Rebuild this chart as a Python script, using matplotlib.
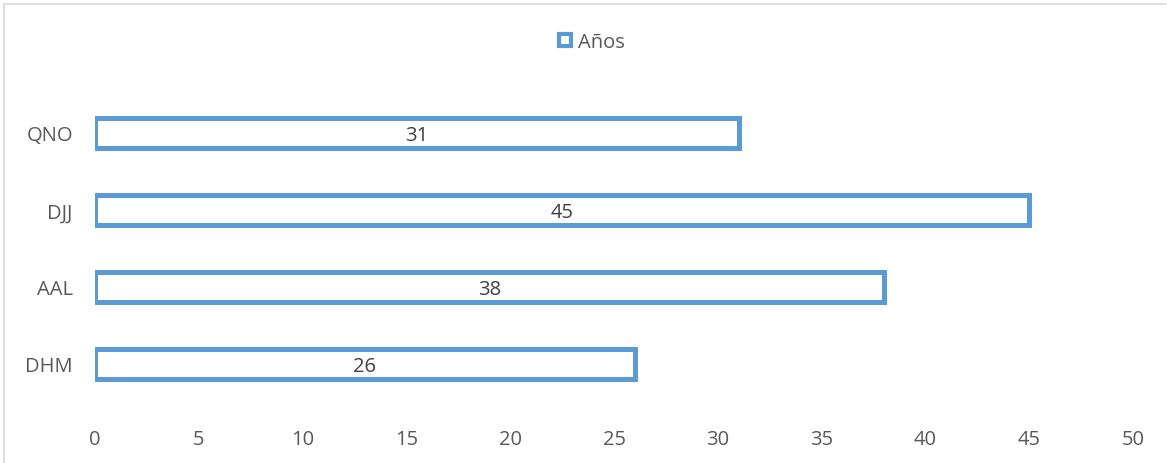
import matplotlib
matplotlib.use("Agg")
import matplotlib.pyplot as plt
from matplotlib.patches import Patch
from matplotlib.lines import Line2D

categories = ["DHM", "AAL", "DJJ", "QNO"]
years = [26, 38, 45, 31]
series_name = "Años"
x_ticks = [0, 5, 10, 15, 20, 25, 30, 35, 40, 45, 50]

plt.rcParams["font.family"] = ["Open Sans", "DejaVu Sans"]

W, H = 1167, 464
fig = plt.figure(figsize=(W / 100, H / 100), dpi=100)
ax = fig.add_axes([95 / W, 1 - 403.5 / H, (1133 - 95) / W, (403.5 - 95.5) / H])

blue = "#5B9BD5"
text_grey = "#595959"
fs = 14.5

y = range(len(categories))
ax.barh(y, years, height=0.377, color="white", edgecolor=blue, linewidth=3.6)

for yi, v in zip(y, years):
    ax.text(v / 2, yi - 0.02, str(v), ha="center", va="center", fontsize=fs, color="#404040")

ax.set_xlim(0, 50)
ax.set_ylim(-0.5, len(categories) - 0.5)
ax.set_yticks(list(y))
ax.set_yticklabels(categories)
ax.set_xticks(x_ticks)
ax.tick_params(axis="both", length=0, labelsize=fs, labelcolor=text_grey)
ax.tick_params(axis="x", pad=19)
ax.tick_params(axis="y", pad=16)
for s in ax.spines.values():
    s.set_visible(False)

handle = Patch(facecolor="white", edgecolor=blue, linewidth=3.0)
fig.legend([handle], [series_name], loc="center", bbox_to_anchor=(592 / W, 1 - 43 / H),
           frameon=False, fontsize=fs, labelcolor=text_grey,
           handlelength=0.6, handleheight=0.6, handletextpad=0.35)

# chart area border
fig.add_artist(Line2D([4 / W, 4 / W], [0, 1 - 5 / H], transform=fig.transFigure,
                      color="#D9D9D9", linewidth=1.2))
fig.add_artist(Line2D([4 / W, 1166 / W], [1 - 5 / H, 1 - 5 / H], transform=fig.transFigure,
                      color="#D9D9D9", linewidth=1.2))

fig.savefig("out.png", dpi=100, facecolor="white")
